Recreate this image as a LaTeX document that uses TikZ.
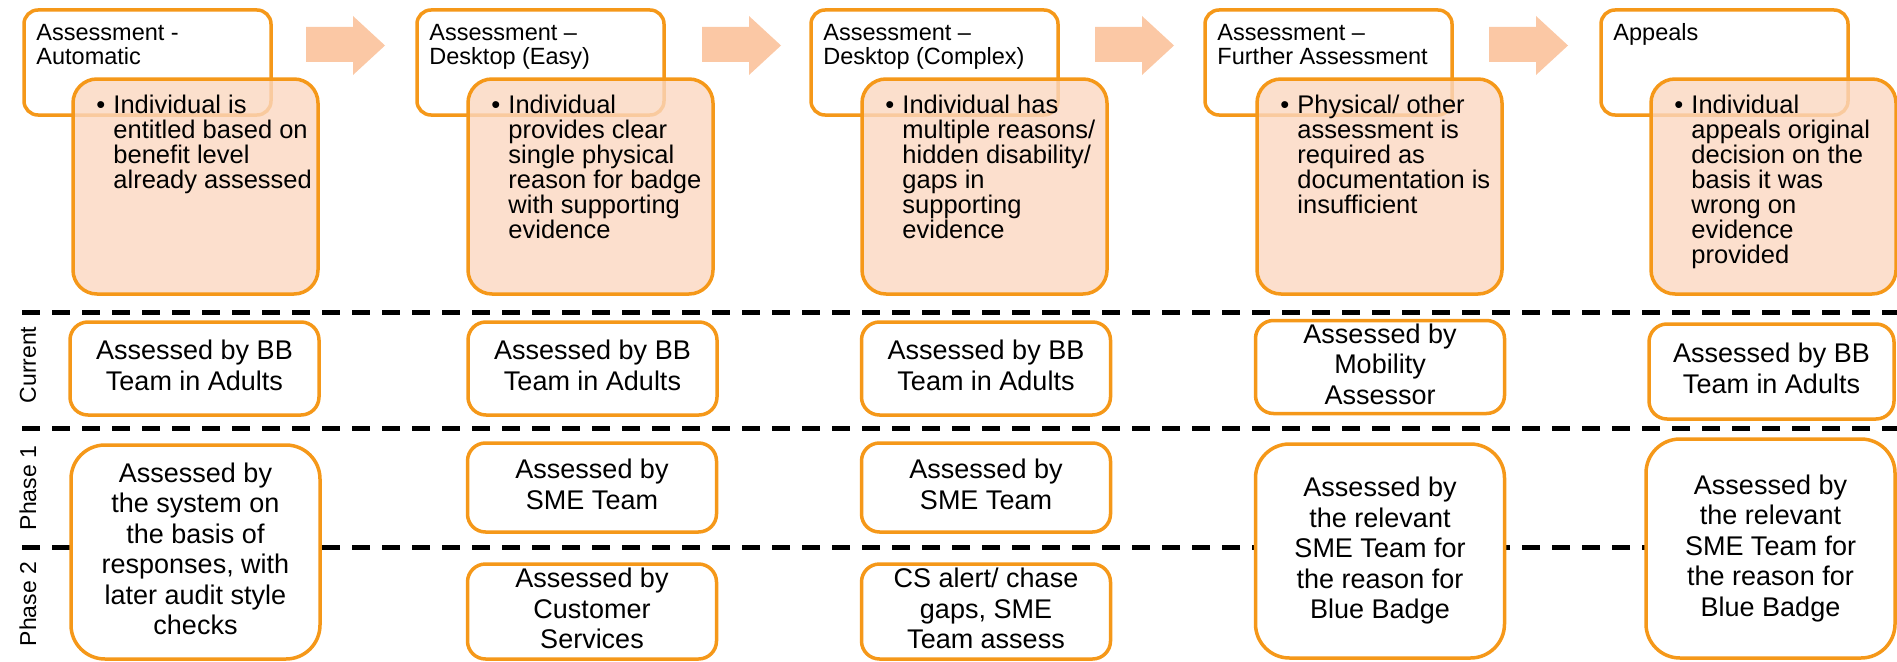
\documentclass[tikz,border=0pt]{standalone}
\usepackage{fontspec}
\setmainfont{Liberation Sans}
\usepackage{xcolor}

\definecolor{stageorange}{RGB}{245,152,25}
\definecolor{notepeach}{RGB}{251,215,192}
\definecolor{arrowpeach}{RGB}{251,200,165}

\newcommand{\hdrlines}[1]{\begin{tabular}[t]{@{}l@{}}#1\end{tabular}}
\newcommand{\notelines}[1]{\parbox[t]{230pt}{\hangindent=17pt\hangafter=1\noindent\makebox[17pt][l]{\textbullet}#1}}
\newcommand{\celllines}[1]{\smash{\raisebox{-0.25em}{\begin{tabular}{@{}c@{}}#1\end{tabular}}}}

\tikzset{
  hdrbox/.style={draw=stageorange, line width=3.5pt, rounded corners=14pt, fill=white,
    minimum width=247pt, minimum height=105pt, inner sep=0pt},
  notebox/.style={draw=stageorange, line width=3.5pt, rounded corners=24pt, fill=notepeach,
    fill opacity=0.8, minimum width=245pt, minimum height=215pt, inner sep=0pt},
  hdrtext/.style={anchor=base west, inner sep=0pt, font=\fontsize{23.5}{24.5}\selectfont},
  notetext/.style={anchor=base west, inner sep=0pt, font=\fontsize{25.5}{25}\selectfont},
  cellbox/.style={draw=stageorange, line width=3.5pt, rounded corners=18pt, fill=white,
    inner sep=0pt, minimum width=249pt, font=\fontsize{27}{30.5}\selectfont},
  bigcell/.style={cellbox, rounded corners=34pt, minimum height=214pt},
  rowlabel/.style={rotate=90, inner sep=0pt, font=\fontsize{23}{26}\selectfont},
  rowline/.style={line width=5pt, dash pattern=on 18pt off 12pt},
  stagearrow/.style={fill=arrowpeach},
}

\begin{document}
\begin{tikzpicture}[x=1pt,y=-1pt]

  \useasboundingbox (0,0) rectangle (1897,661);

  % row separators
  \coordinate (sep1l) at (22,312);
  \coordinate (sep1r) at (1897,312);
  \coordinate (sep2l) at (22,428);
  \coordinate (sep2r) at (1897,428);
  \coordinate (sep3l) at (22,547);
  \coordinate (sep3r) at (1897,547);
  \draw[rowline] (sep1l) -- (sep1r);
  \draw[rowline] (sep2l) -- (sep2r);
  \draw[rowline] (sep3l) -- (sep3r);

  \node[rowlabel] (lblcur) at (28,365) {Current};
  \node[rowlabel] (lblph1) at (28,488) {Phase 1};
  \node[rowlabel] (lblph2) at (28,604) {Phase 2};

  % stage headers
  \node[hdrbox] (hdr1) at (147.5,62.5) {};
  \node[hdrbox] (hdr2) at (540.5,62.5) {};
  \node[hdrbox] (hdr3) at (934.5,62.5) {};
  \node[hdrbox] (hdr4) at (1328.5,62.5) {};
  \node[hdrbox] (hdr5) at (1724.5,62.5) {};

  \node[hdrtext] (hdr1t) at ([shift={(14,32)}]hdr1.north west) {\hdrlines{Assessment -\\Automatic}};
  \node[hdrtext] (hdr2t) at ([shift={(14,32)}]hdr2.north west) {\hdrlines{Assessment –\\Desktop (Easy)}};
  \node[hdrtext] (hdr3t) at ([shift={(14,32)}]hdr3.north west) {\hdrlines{Assessment –\\Desktop (Complex)}};
  \node[hdrtext] (hdr4t) at ([shift={(14,32)}]hdr4.north west) {\hdrlines{Assessment –\\Further Assessment}};
  \node[hdrtext] (hdr5t) at ([shift={(14,32)}]hdr5.north west) {\hdrlines{Appeals}};

  % descriptions
  \node[notebox] (note1) at (195.5,186.5) {};
  \node[notebox] (note2) at (590.5,186.5) {};
  \node[notebox] (note3) at (984.5,186.5) {};
  \node[notebox] (note4) at (1379.5,186.5) {};
  \node[notebox] (note5) at (1773.5,186.5) {};

  \node[notetext] (note1t) at ([shift={(25,36)}]note1.north west) {\notelines{Individual is\\entitled based on\\benefit level\\already assessed}};
  \node[notetext] (note2t) at ([shift={(25,36)}]note2.north west) {\notelines{Individual\\provides clear\\single physical\\reason for badge\\with supporting\\evidence}};
  \node[notetext] (note3t) at ([shift={(25,36)}]note3.north west) {\notelines{Individual has\\multiple reasons/\\hidden disability/\\gaps in\\supporting\\evidence}};
  \node[notetext] (note4t) at ([shift={(25,36)}]note4.north west) {\notelines{Physical/ other\\assessment is\\required as\\documentation is\\insufficient}};
  \node[notetext] (note5t) at ([shift={(25,36)}]note5.north west) {\notelines{Individual\\appeals original\\decision on the\\basis it was\\wrong on\\evidence\\provided}};

  % arrows between stages
  \foreach \ax in {306,702,1095,1489} {
    \fill[stagearrow] (\ax,27) -- ++(47,0) -- ++(0,-11) -- (\ax+79,45.5)
      -- (\ax+47,75) -- ++(0,-13) -- (\ax,62) -- cycle;
  }

  % current
  \node[cellbox, minimum height=93pt] (cur1) at (194.5,368.5) {\celllines{Assessed by BB\\Team in Adults}};
  \node[cellbox, minimum height=93pt] (cur2) at (592.5,368.5) {\celllines{Assessed by BB\\Team in Adults}};
  \node[cellbox, minimum height=93pt] (cur3) at (986,368.5) {\celllines{Assessed by BB\\Team in Adults}};
  \node[cellbox, minimum height=93pt] (cur4) at (1380,367) {\celllines{Assessed by\\Mobility\\Assessor}};
  \node[cellbox, minimum height=95pt, minimum width=245pt] (cur5) at (1771.5,371.5) {\celllines{Assessed by BB\\Team in Adults}};

  % phase 1 and 2
  \node[bigcell] (ph1a) at (195.5,552) {\celllines{Assessed by\\the system on\\the basis of\\responses, with\\later audit style\\checks}};
  \node[cellbox, minimum height=89pt] (ph1b) at (592,487.5) {\celllines{Assessed by\\SME Team}};
  \node[cellbox, minimum height=89pt] (ph1c) at (986,487.5) {\celllines{Assessed by\\SME Team}};
  \node[bigcell] (ph1d) at (1380,551) {\celllines{Assessed by\\the relevant\\SME Team for\\the reason for\\Blue Badge}};
  \node[bigcell, minimum height=219pt] (ph1e) at (1770.5,548.5) {\celllines{Assessed by\\the relevant\\SME Team for\\the reason for\\Blue Badge}};
  \node[cellbox, minimum height=95pt] (ph2b) at (592,611.5) {\celllines{Assessed by\\Customer\\Services}};
  \node[cellbox, minimum height=95pt] (ph2c) at (986,611.5) {\celllines{CS alert/ chase\\gaps, SME\\Team assess}};

\end{tikzpicture}
\end{document}
